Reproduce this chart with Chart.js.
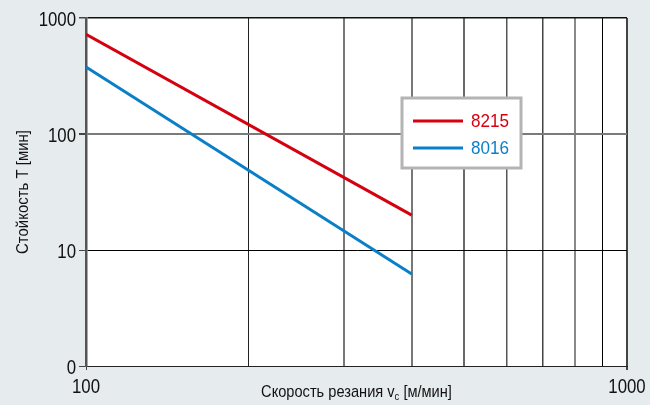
<!DOCTYPE html>
<html>
<head>
<meta charset="utf-8">
<script src="https://cdn.jsdelivr.net/npm/chart.js@4"></script>
<style>
html,body{margin:0;padding:0;background:#e6ebee;}
#wrap{width:650px;height:405px;}
</style>
</head>
<body>
<div id="wrap"><canvas id="c" width="650" height="405"></canvas></div>
<script>
const FONT = "'Liberation Sans',Arial,sans-serif";
const speeds = [100, 400];
const life8215 = [725, 20];
const life8016 = [378, 6.2];
const seriesNames = ['8215', '8016'];
const xTicks = [100, 200, 300, 400, 500, 600, 700, 800, 900, 1000];
const xLabels = {100: '100', 1000: '1000'};
const yTicks = [1, 10, 100, 1000];
const yLabels = {1: '0', 10: '10', 100: '100', 1000: '1000'};
const xTitle = ['Скорость резания v', 'c', ' [м/мин]'];
const yTitle = 'Стойкость T [мин]';

const RED = '#d6000f', BLUE = '#0a7fc8';

function pts(ys){ return speeds.map((x,i)=>({x:x, y:ys[i]})); }

const xGrid = {200:['#222',1],300:['#777',2],400:['#777',2],500:['#6a6a6a',2],600:['#555',1.5],700:['#444',1.5],800:['#888',2],900:['#000',1],1000:['#444',2],100:['rgba(0,0,0,0)',1]};
const yGrid = {1:['rgba(0,0,0,0)',1],10:['#000',1],100:['#7a7a7a',2],1000:['#111',1.5]};

// draw condensed text (narrow face emulation)
function condText(ctx, txt, x, y, sx, align){
  ctx.save();
  const w = ctx.measureText(txt).width * sx;
  let left = x;
  if (align === 'center') left = x - w / 2;
  else if (align === 'right') left = x - w;
  ctx.translate(left, y);
  ctx.scale(sx, 1);
  ctx.textAlign = 'left';
  ctx.fillText(txt, 0, 0);
  ctx.restore();
  return w;
}

const extras = {
  id: 'extras',
  afterDatasetsDraw(chart){
    const ctx = chart.ctx, ca = chart.chartArea;
    const xs = chart.scales.x, ys = chart.scales.y;
    ctx.save();
    // tick labels
    ctx.fillStyle = '#111';
    ctx.textBaseline = 'alphabetic';
    ctx.font = '21px ' + FONT;
    yTicks.forEach(v=>{
      const py = ys.getPixelForValue(v);
      condText(ctx, yLabels[v], 76, py + 8, 0.8, 'right');
    });
    Object.keys(xLabels).forEach(k=>{
      const px = xs.getPixelForValue(+k);
      condText(ctx, xLabels[k], px, 393, 0.8, 'center');
    });
    // legend
    const lx = 402, ly = 98, lw = 119, lh = 70;
    ctx.fillStyle = '#fff';
    ctx.fillRect(lx, ly, lw, lh);
    ctx.strokeStyle = '#b4b4b4';
    ctx.lineWidth = 3;
    ctx.strokeRect(lx, ly, lw, lh);
    const ds = chart.data.datasets;
    const rows = [121, 148];
    ctx.font = '19px ' + FONT;
    ctx.textBaseline = 'middle';
    ds.forEach((d,i)=>{
      ctx.strokeStyle = d.borderColor;
      ctx.lineWidth = 3;
      ctx.beginPath();
      ctx.moveTo(413, rows[i]);
      ctx.lineTo(463, rows[i]);
      ctx.stroke();
      ctx.fillStyle = d.borderColor;
      condText(ctx, d.label, 471, rows[i] + 1, 0.9, 'left');
    });
    // x title with subscript
    ctx.fillStyle = '#111';
    ctx.textBaseline = 'alphabetic';
    const big = '17px ' + FONT, small = '11px ' + FONT;
    const sx = 0.86;
    ctx.font = big; const w0 = ctx.measureText(xTitle[0]).width * sx;
    const w2 = ctx.measureText(xTitle[2]).width * sx;
    ctx.font = small; const w1 = ctx.measureText(xTitle[1]).width * sx;
    const total = w0 + w1 + w2;
    let x = (ca.left + ca.right) / 2 - total / 2;
    const by = 397;
    ctx.font = big; condText(ctx, xTitle[0], x, by, sx, 'left'); x += w0;
    ctx.font = small; condText(ctx, xTitle[1], x, by + 3, sx, 'left'); x += w1;
    ctx.font = big; condText(ctx, xTitle[2], x, by, sx, 'left');
    // y title
    ctx.translate(23, (ca.top + ca.bottom) / 2);
    ctx.rotate(-Math.PI / 2);
    ctx.textBaseline = 'middle';
    ctx.font = big;
    condText(ctx, yTitle, 0, 0, 0.88, 'center');
    ctx.restore();
  },
  beforeDraw(chart){
    const ctx = chart.ctx, ca = chart.chartArea;
    ctx.save();
    ctx.fillStyle = '#e6ebee';
    ctx.fillRect(0, 0, chart.width, chart.height);
    ctx.fillStyle = '#ffffff';
    ctx.fillRect(ca.left, ca.top, ca.right - ca.left, ca.bottom - ca.top);
    ctx.restore();
  }
};

new Chart(document.getElementById('c'), {
  type: 'line',
  data: {
    datasets: [
      {label: seriesNames[0], data: pts(life8215), borderColor: RED, borderWidth: 3, pointRadius: 0, fill: false, tension: 0},
      {label: seriesNames[1], data: pts(life8016), borderColor: BLUE, borderWidth: 3, pointRadius: 0, fill: false, tension: 0}
    ]
  },
  options: {
    responsive: false,
    animation: false,
    layout: {padding: {top: 18, right: 23, left: 0, bottom: 0}},
    plugins: {legend: {display: false}, tooltip: {enabled: false}},
    scales: {
      x: {
        type: 'logarithmic', min: 100, max: 1000,
        afterBuildTicks(s){ s.ticks = xTicks.map(v=>({value:v})); },
        afterFit(s){ s.height = 39; },
        ticks: {display: false},
        grid: {
          color(c){ const g = xGrid[c.tick && c.tick.value]; return g ? g[0] : '#555'; },
          lineWidth(c){ const g = xGrid[c.tick && c.tick.value]; return g ? g[1] : 1; },
          tickColor(c){ const v = c.tick && c.tick.value; return (v===100||v===1000) ? '#444' : 'rgba(0,0,0,0)'; },
          tickLength: 4,
          drawTicks: true
        },
        border: {color: '#222', width: 1}
      },
      y: {
        type: 'logarithmic', min: 1, max: 1000,
        afterBuildTicks(s){ s.ticks = yTicks.map(v=>({value:v})); },
        afterFit(s){ s.width = 86; },
        ticks: {display: false},
        grid: {
          color(c){ const g = yGrid[c.tick && c.tick.value]; return g ? g[0] : '#555'; },
          lineWidth(c){ const g = yGrid[c.tick && c.tick.value]; return g ? g[1] : 1; },
          tickColor: '#444',
          tickLength: 7
        },
        border: {color: '#555', width: 2.5}
      }
    }
  },
  plugins: [extras]
});
</script>
</body>
</html>
